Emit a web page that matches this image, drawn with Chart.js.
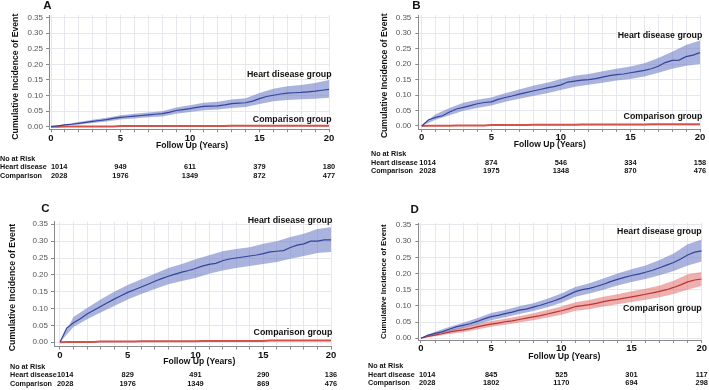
<!DOCTYPE html>
<html>
<head>
<meta charset="utf-8">
<script src="https://cdn.jsdelivr.net/npm/chart.js@4.4.0/dist/chart.umd.min.js"></script>
<style>
  body { margin: 0; background: #fff; width: 709px; height: 390px; position: relative; overflow: hidden; }
  .panel { position: absolute; }
</style>
</head>
<body>
<div class="panel" style="left:0;top:0;width:355px;height:195px"><canvas id="chartA"></canvas></div>
<div class="panel" style="left:355px;top:0;width:354px;height:195px"><canvas id="chartB"></canvas></div>
<div class="panel" style="left:0;top:195px;width:355px;height:195px"><canvas id="chartC"></canvas></div>
<div class="panel" style="left:355px;top:195px;width:354px;height:195px"><canvas id="chartD"></canvas></div>
<script>
// follow-up time points (years)
const years = [0, 0.5, 1, 1.5, 2, 2.5, 3, 3.5, 4, 4.5, 5, 5.5, 6, 6.5, 7, 7.5, 8, 8.5, 9, 9.5,
  10, 10.5, 11, 11.5, 12, 12.5, 13, 13.5, 14, 14.5, 15, 15.5, 16, 16.5, 17, 17.5, 18, 18.5, 19, 19.5, 20];
const bandYears = [0, 1, 2, 3, 4, 5, 6, 7, 8, 9, 10, 11, 12, 13, 14, 15, 16, 17, 18, 19, 20];
const xGridYears = [0, 1, 2, 3, 4, 5, 6, 7, 8, 9, 10, 11, 12, 13, 14, 15, 16, 17, 18, 19, 20];
const yTickValues = [0, 0.05, 0.10, 0.15, 0.20, 0.25, 0.30, 0.35];
const riskYears = [0, 5, 10, 15, 20];

// Panel A
const heartA = [0, 0.003, 0.006, 0.008, 0.011, 0.014, 0.017, 0.020, 0.023, 0.027, 0.030, 0.032, 0.034, 0.036, 0.038, 0.040,
  0.042, 0.046, 0.052, 0.055, 0.058, 0.062, 0.065, 0.066, 0.067, 0.070, 0.074, 0.076, 0.077, 0.082, 0.090, 0.097,
  0.101, 0.105, 0.108, 0.109, 0.110, 0.112, 0.114, 0.117, 0.120];
const heartUpperA = [0, 0.008, 0.015, 0.022, 0.029, 0.037, 0.042, 0.046, 0.050, 0.062, 0.069, 0.077, 0.080, 0.087, 0.091,
  0.108, 0.122, 0.130, 0.134, 0.140, 0.150];
const heartLowerA = [0, 0.004, 0.007, 0.012, 0.017, 0.023, 0.026, 0.030, 0.033, 0.042, 0.047, 0.053, 0.055, 0.060, 0.063,
  0.073, 0.082, 0.086, 0.088, 0.090, 0.093];
const compA = [0, 0, 0.001, 0.001, 0.001, 0.001, 0.001, 0.001, 0.001, 0.001, 0.002, 0.002, 0.002, 0.002, 0.002, 0.002,
  0.002, 0.002, 0.002, 0.002, 0.002, 0.002, 0.002, 0.002, 0.002, 0.002, 0.003, 0.003, 0.003, 0.003, 0.003, 0.003,
  0.003, 0.003, 0.003, 0.003, 0.003, 0.003, 0.003, 0.003, 0.003];
const heartRiskA = [1014, 949, 611, 379, 180];
const compRiskA = [2028, 1976, 1349, 872, 477];

// Panel B
const heartB = [0, 0.020, 0.028, 0.033, 0.045, 0.055, 0.060, 0.066, 0.072, 0.076, 0.078, 0.086, 0.092, 0.097, 0.103, 0.108,
  0.113, 0.118, 0.123, 0.127, 0.133, 0.142, 0.145, 0.148, 0.150, 0.153, 0.158, 0.163, 0.166, 0.168, 0.172, 0.176,
  0.180, 0.185, 0.193, 0.205, 0.212, 0.213, 0.224, 0.229, 0.237];
const heartUpperB = [0, 0.038, 0.058, 0.075, 0.085, 0.092, 0.106, 0.118, 0.130, 0.140, 0.152, 0.162, 0.168, 0.177, 0.185,
  0.192, 0.203, 0.220, 0.240, 0.262, 0.276];
const heartLowerB = [0, 0.020, 0.035, 0.049, 0.058, 0.066, 0.078, 0.088, 0.097, 0.106, 0.116, 0.127, 0.133, 0.140, 0.147,
  0.152, 0.160, 0.172, 0.185, 0.195, 0.200];
const compB = [0, 0.001, 0.001, 0.001, 0.001, 0.002, 0.002, 0.002, 0.002, 0.002, 0.003, 0.003, 0.003, 0.003, 0.003, 0.003,
  0.004, 0.004, 0.004, 0.004, 0.004, 0.004, 0.004, 0.005, 0.005, 0.005, 0.005, 0.005, 0.005, 0.005, 0.005, 0.005,
  0.005, 0.006, 0.006, 0.006, 0.006, 0.006, 0.006, 0.006, 0.006];
const heartRiskB = [1014, 874, 546, 334, 158];
const compRiskB = [2028, 1975, 1348, 870, 476];

// Panel C
const heartC = [0, 0.042, 0.058, 0.070, 0.084, 0.095, 0.106, 0.117, 0.128, 0.138, 0.148, 0.156, 0.164, 0.172, 0.181, 0.189,
  0.196, 0.202, 0.208, 0.213, 0.219, 0.226, 0.231, 0.234, 0.242, 0.247, 0.250, 0.253, 0.256, 0.259, 0.263, 0.268,
  0.270, 0.272, 0.281, 0.288, 0.292, 0.300, 0.300, 0.304, 0.304];
const heartUpperC = [0, 0.075, 0.102, 0.127, 0.150, 0.170, 0.187, 0.203, 0.220, 0.232, 0.246, 0.258, 0.270, 0.277, 0.282,
  0.292, 0.300, 0.312, 0.322, 0.336, 0.341];
const heartLowerC = [0, 0.045, 0.068, 0.088, 0.108, 0.127, 0.143, 0.158, 0.172, 0.182, 0.191, 0.203, 0.213, 0.220, 0.226,
  0.232, 0.238, 0.248, 0.256, 0.265, 0.268];
const compC = [0, 0.001, 0.001, 0.001, 0.001, 0.001, 0.002, 0.002, 0.002, 0.002, 0.002, 0.002, 0.003, 0.003, 0.003, 0.003,
  0.003, 0.003, 0.003, 0.003, 0.003, 0.004, 0.004, 0.004, 0.004, 0.004, 0.004, 0.004, 0.004, 0.004, 0.004, 0.005,
  0.005, 0.005, 0.005, 0.005, 0.005, 0.005, 0.005, 0.005, 0.005];
const heartRiskC = [1014, 829, 491, 290, 136];
const compRiskC = [2028, 1976, 1349, 869, 476];

// Panel D
const heartD = [0, 0.010, 0.015, 0.020, 0.028, 0.035, 0.040, 0.045, 0.052, 0.060, 0.067, 0.071, 0.076, 0.081, 0.087, 0.090,
  0.096, 0.102, 0.109, 0.116, 0.124, 0.134, 0.144, 0.150, 0.154, 0.160, 0.167, 0.175, 0.182, 0.188, 0.194, 0.198,
  0.204, 0.210, 0.218, 0.226, 0.234, 0.245, 0.257, 0.266, 0.270];
const heartUpperD = [0, 0.020, 0.035, 0.048, 0.062, 0.078, 0.087, 0.099, 0.108, 0.122, 0.138, 0.158, 0.170, 0.185, 0.200,
  0.213, 0.225, 0.242, 0.262, 0.290, 0.305];
const heartLowerD = [0, 0.010, 0.021, 0.032, 0.042, 0.056, 0.065, 0.075, 0.084, 0.096, 0.110, 0.128, 0.138, 0.150, 0.163,
  0.174, 0.183, 0.195, 0.208, 0.225, 0.237];
const compD = [0, 0.006, 0.010, 0.014, 0.019, 0.023, 0.026, 0.030, 0.035, 0.040, 0.044, 0.047, 0.051, 0.054, 0.058, 0.062,
  0.066, 0.070, 0.075, 0.080, 0.085, 0.091, 0.098, 0.101, 0.104, 0.108, 0.113, 0.117, 0.120, 0.124, 0.128, 0.132,
  0.136, 0.140, 0.145, 0.150, 0.157, 0.165, 0.174, 0.180, 0.183];
const compUpperD = [0, 0.015, 0.026, 0.034, 0.043, 0.053, 0.060, 0.068, 0.077, 0.087, 0.098, 0.111, 0.118, 0.128, 0.136,
  0.145, 0.153, 0.163, 0.178, 0.198, 0.205];
const compLowerD = [0, 0.006, 0.013, 0.019, 0.027, 0.036, 0.042, 0.049, 0.056, 0.064, 0.073, 0.085, 0.090, 0.098, 0.105,
  0.112, 0.119, 0.127, 0.137, 0.150, 0.162];
const heartRiskD = [1014, 845, 525, 301, 117];
const compRiskD = [2028, 1802, 1170, 694, 298];

const FONT = '"Liberation Sans", Arial, sans-serif';
const BLUE = '#35449a';
const BLUE_BAND = 'rgba(112, 128, 198, 0.6)';
const RED = '#d2534b';
const RED_BAND = 'rgba(226, 96, 96, 0.5)';

Chart.defaults.font.family = FONT;

function curve(values, color, width) {
  return {
    data: years.map((t, i) => ({ x: t, y: values[i] })),
    borderColor: color, borderWidth: width, pointRadius: 0, tension: 0, fill: false
  };
}

function bandEdge(values, color, fillTo) {
  return {
    data: bandYears.map((t, i) => ({ x: t, y: values[i] })),
    borderWidth: 0, borderColor: 'rgba(0,0,0,0)', pointRadius: 0, tension: 0,
    backgroundColor: color, fill: fillTo
  };
}

// titles, curve labels, panel letter and number-at-risk table
const panelText = {
  id: 'panelText',
  afterDraw(chart, args, o) {
    const { ctx } = chart;
    const xs = chart.scales.x, ys = chart.scales.y;
    ctx.save();
    ctx.fillStyle = '#111';
    ctx.textBaseline = 'middle';

    ctx.font = 'bold 11.5px ' + FONT;
    ctx.textAlign = 'center';
    ctx.fillText(o.letter, o.letterX, o.letterY);

    ctx.font = 'bold 8.6px ' + FONT;
    ctx.fillText('Follow Up (Years)', o.xTitleX, o.xTitleY);

    ctx.save();
    ctx.translate(o.yTitleX, o.yTitleY);
    ctx.rotate(-Math.PI / 2);
    ctx.font = 'bold ' + o.yTitleSize + 'px ' + FONT;
    ctx.fillText('Cumulative Incidence of Event', 0, 0);
    ctx.restore();

    ctx.font = 'bold 8.8px ' + FONT;
    ctx.textAlign = 'right';
    const lx = xs.getPixelForValue(20) + o.labelShift;
    ctx.fillText('Heart disease group', lx, ys.getPixelForValue(o.heartLabelY));
    ctx.fillText('Comparison group', lx, ys.getPixelForValue(o.compLabelY));

    ctx.font = 'bold 7.2px ' + FONT;
    ctx.textAlign = 'left';
    ctx.fillText('No at Risk', o.tableX, o.rowY[0]);
    ctx.fillText('Heart disease', o.tableX, o.rowY[1]);
    ctx.fillText('Comparison', o.tableX, o.rowY[2]);
    ctx.font = 'bold 7.4px ' + FONT;
    [o.heartRisk, o.compRisk].forEach((row, r) => {
      row.forEach((n, i) => {
        const px = xs.getPixelForValue(riskYears[i]);
        if (i === 0) {
          ctx.textAlign = 'left';
          ctx.fillText(String(n), px + o.firstShift, o.rowY[r + 1]);
        } else {
          ctx.textAlign = 'center';
          ctx.fillText(String(n), px, o.rowY[r + 1]);
        }
      });
    });
    ctx.restore();
  }
};

function makePanel(id, g, datasets, text) {
  new Chart(document.getElementById(id), {
    type: 'line',
    data: { datasets },
    options: {
      responsive: true,
      maintainAspectRatio: false,
      animation: false,
      devicePixelRatio: 1,
      layout: { padding: { left: 0, top: g.top, right: g.cw - g.right, bottom: 0 } },
      plugins: { legend: { display: false }, tooltip: { enabled: false }, panelText: text },
      scales: {
        x: {
          type: 'linear', min: g.xmin, max: 20,
          afterBuildTicks: s => { s.ticks = xGridYears.map(v => ({ value: v })); },
          afterFit: s => { s.height = g.ch - g.bottom; },
          ticks: {
            autoSkip: false, maxRotation: 0, padding: 0, color: '#111',
            font: { size: 9.5, weight: 'bold' },
            callback: v => (v % 5 === 0 ? String(v) : '')
          },
          grid: { color: '#e7e7ee', tickColor: '#8a8a8a', tickLength: 3 },
          border: { color: '#8a8a8a', width: 1 }
        },
        y: {
          type: 'linear', min: g.ymin, max: g.ymax,
          afterBuildTicks: s => { s.ticks = yTickValues.map(v => ({ value: v })); },
          afterFit: s => { s.width = g.yAxisW; },
          ticks: { padding: g.yPad, color: '#555', font: { size: 8 }, callback: v => v.toFixed(2) },
          grid: { color: '#e7e7ee', tickColor: '#8a8a8a', tickLength: 3 },
          border: { color: '#8a8a8a', width: 1 }
        }
      }
    },
    plugins: [panelText]
  });
}

makePanel('chartA',
  { cw: 355, ch: 195, yAxisW: 49, top: 15, right: 329, bottom: 129.3, xmin: -0.144, ymin: -0.0083, ymax: 0.3587, yPad: 3 },
  [curve(heartA, BLUE, 1.2), curve(compA, RED, 2),
   bandEdge(heartUpperA, BLUE_BAND, '+1'), bandEdge(heartLowerA, BLUE_BAND, false)],
  { letter: 'A', letterX: 47.5, letterY: 6, xTitleX: 192, xTitleY: 146, yTitleX: 16, yTitleY: 76.7, yTitleSize: 8.7,
    labelShift: 2.5, heartLabelY: 0.168, compLabelY: 0.024, tableX: 0, rowY: [159, 167.3, 176],
    firstShift: 0, heartRisk: heartRiskA, compRisk: compRiskA });

makePanel('chartB',
  { cw: 354, ch: 195, yAxisW: 63.3, top: 15, right: 345, bottom: 129, xmin: -0.244, ymin: -0.0097, ymax: 0.3587, yPad: 4 },
  [curve(heartB, BLUE, 1.2), curve(compB, RED, 2),
   bandEdge(heartUpperB, BLUE_BAND, '+1'), bandEdge(heartLowerB, BLUE_BAND, false)],
  { letter: 'B', letterX: 61.5, letterY: 6, xTitleX: 194.7, xTitleY: 145, yTitleX: 30, yTitleY: 75.8, yTitleSize: 8.6,
    labelShift: 2.3, heartLabelY: 0.291, compLabelY: 0.032, tableX: 16, rowY: [154, 162.7, 171],
    firstShift: -2.4, heartRisk: heartRiskB, compRisk: compRiskB });

makePanel('chartC',
  { cw: 355, ch: 195, yAxisW: 54, top: 26.7, right: 331, bottom: 151.5, xmin: -0.44, ymin: -0.0125, ymax: 0.3577, yPad: 3 },
  [curve(heartC, BLUE, 1.2), curve(compC, RED, 2),
   bandEdge(heartUpperC, BLUE_BAND, '+1'), bandEdge(heartLowerC, BLUE_BAND, false)],
  { letter: 'C', letterX: 45.5, letterY: 13.5, xTitleX: 199.2, xTitleY: 166.7, yTitleX: 12.3, yTitleY: 92.5, yTitleSize: 8.8,
    labelShift: 1.3, heartLabelY: 0.361, compLabelY: 0.0285, tableX: 10, rowY: [172.3, 180.3, 189.3],
    firstShift: -3, heartRisk: heartRiskC, compRisk: compRiskC });

makePanel('chartD',
  { cw: 354, ch: 195, yAxisW: 63.3, top: 28, right: 346.7, bottom: 145, xmin: -0.19, ymin: -0.0053, ymax: 0.356, yPad: 4 },
  [curve(heartD, BLUE, 1.2), curve(compD, '#b8362f', 1.2),
   bandEdge(heartUpperD, BLUE_BAND, '+1'), bandEdge(heartLowerD, BLUE_BAND, false),
   bandEdge(compUpperD, RED_BAND, '+1'), bandEdge(compLowerD, RED_BAND, false)],
  { letter: 'D', letterX: 59.7, letterY: 15.3, xTitleX: 209.3, xTitleY: 162, yTitleX: 29.3, yTitleY: 86.7, yTitleSize: 7.9,
    labelShift: 0, heartLabelY: 0.331, compLabelY: 0.093, tableX: 13, rowY: [171, 180, 188.3],
    firstShift: -2, heartRisk: heartRiskD, compRisk: compRiskD });
</script>
</body>
</html>
